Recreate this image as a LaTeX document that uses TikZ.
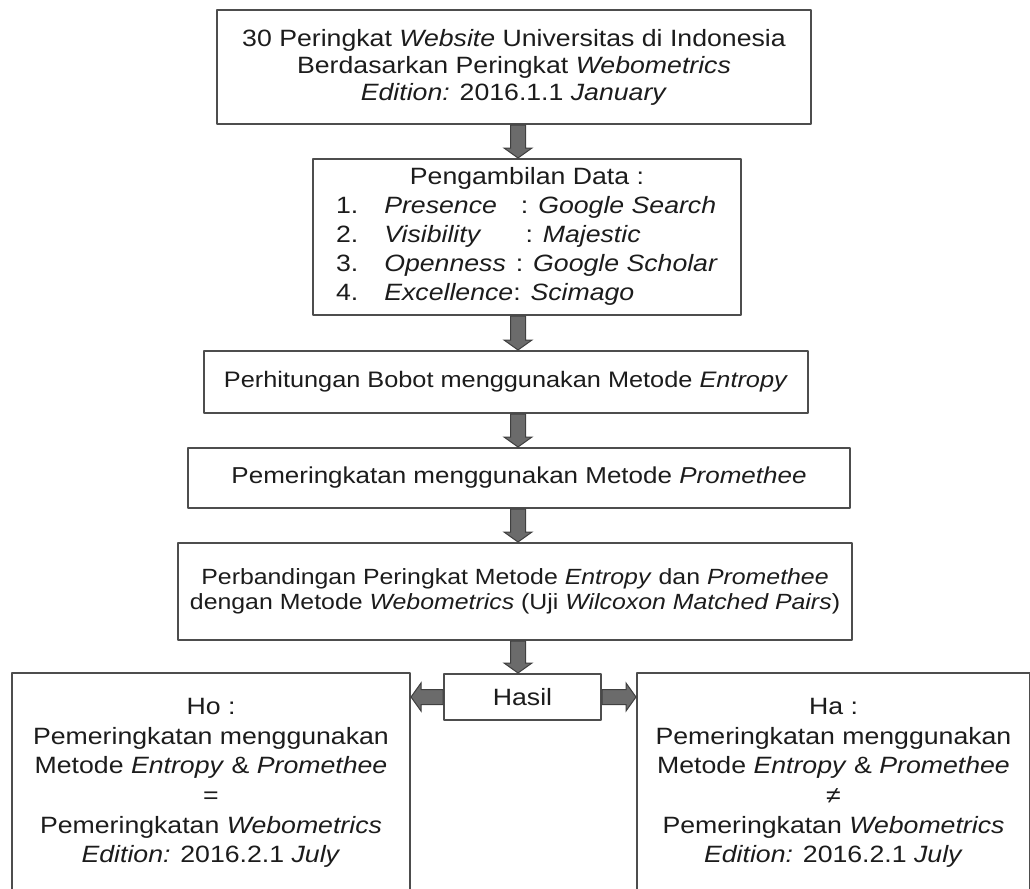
\documentclass[tikz,border=0pt]{standalone}
\usepackage{fontspec}
\setmainfont{Liberation Sans}[FakeStretch=1.13]
\usetikzlibrary{calc}
\definecolor{boxline}{HTML}{4D4D4D}
\definecolor{arrowfill}{HTML}{6B6B6B}
\definecolor{txt}{HTML}{1C1C1C}

\tikzset{
  stepbox/.style={draw=boxline, line width=1pt, fill=white, align=center, inner sep=0pt, text=txt},
  blockarrow/.style={fill=arrowfill, draw=black!75, line width=0.5pt, line join=miter},
  fs/.style 2 args={font=\fontsize{#1}{#2}\selectfont},
}

% block arrow pointing down, between two boxes
\newcommand{\downblock}[2]{%
  \draw[blockarrow] let \p1=(#1.south -| ax), \p2=(#2.north -| ax) in
    (\x1-3.75pt,\y1) -- (\x1+3.75pt,\y1) -- (\x1+3.75pt,\y2+5pt) -- (\x1+7pt,\y2+5pt)
    -- (\x1,\y2) -- (\x1-7pt,\y2+5pt) -- (\x1-3.75pt,\y2+5pt) -- cycle;}
% block arrow sideways, #3 = head length (its sign gives the direction)
\newcommand{\sideblock}[3]{%
  \draw[blockarrow] let \p1=(#1), \p2=(#2) in
    (\x1,{\y1-3.75pt}) -- ({\x2+(#3)},{\y1-3.75pt}) -- ({\x2+(#3)},{\y1-7pt}) -- (\x2,\y1)
    -- ({\x2+(#3)},{\y1+7pt}) -- ({\x2+(#3)},{\y1+3.75pt}) -- (\x1,{\y1+3.75pt}) -- cycle;}

\begin{document}
\begin{tikzpicture}[x=0.5pt, y=-0.5pt, line join=round]
  \path[fill=white, use as bounding box] (0,0) rectangle (1030,889);
  \clip (0,0) rectangle (1030,889);
  \coordinate (ax) at (518,0);

  % alur penelitian
  \node[stepbox, minimum width=297pt, minimum height=57pt, fs={11.8pt}{13.5pt}] (judul) at (514,67)
    {30 Peringkat \textit{Website} Universitas di Indonesia\\
     Berdasarkan Peringkat \textit{Webometrics}\\
     \textit{Edition:} 2016.1.1 \textit{January}};
  \node[stepbox, minimum width=214pt, minimum height=78pt, fs={11.8pt}{14.5pt}] (data) at (527,237)
    {\begin{tabular}{@{}l@{\hspace{13pt}}l@{}}
      \multicolumn{2}{c}{Pengambilan Data :}\\
      1. & \textit{Presence}\hspace{12pt}: \textit{Google Search}\\
      2. & \textit{Visibility}\hspace{22pt}: \textit{Majestic}\\
      3. & \textit{Openness}\hspace{5pt}: \textit{Google Scholar}\\
      4. & \textit{Excellence}: \textit{Scimago}
     \end{tabular}};
  \node[stepbox, minimum width=302pt, minimum height=31pt, fs={11.2pt}{12.5pt}] (entropy) at (506,382)
    {Perhitungan Bobot menggunakan Metode \textit{Entropy}};
  \node[stepbox, minimum width=331pt, minimum height=30pt, fs={11.5pt}{12.5pt}] (promethee) at (519,478)
    {Pemeringkatan menggunakan Metode \textit{Promethee}};
  \node[stepbox, minimum width=337pt, minimum height=48.5pt, fs={11pt}{12.5pt}] (banding) at (515,591.5)
    {Perbandingan Peringkat Metode \textit{Entropy} dan \textit{Promethee}\\
     dengan Metode \textit{Webometrics} (Uji \textit{Wilcoxon Matched Pairs})};
  \node[stepbox, minimum width=78.5pt, minimum height=23pt, fs={11.8pt}{13.5pt}] (hasil) at (522.5,697)
    {Hasil};
  \node[stepbox, minimum width=199pt, minimum height=110pt, fs={11.8pt}{14.8pt}] (hnol) at (211,783)
    {Ho :\\
     Pemeringkatan menggunakan\\
     Metode \textit{Entropy} \& \textit{Promethee}\\
     =\\
     Pemeringkatan \textit{Webometrics}\\
     \textit{Edition:} 2016.2.1 \textit{July}};
  \node[stepbox, minimum width=196.5pt, minimum height=110pt, fs={11.8pt}{14.8pt}] (halt) at (833.5,783)
    {Ha :\\
     Pemeringkatan menggunakan\\
     Metode \textit{Entropy} \& \textit{Promethee}\\
     ≠\\
     Pemeringkatan \textit{Webometrics}\\
     \textit{Edition:} 2016.2.1 \textit{July}};

  % panah
  \downblock{judul}{data}
  \downblock{data}{entropy}
  \downblock{entropy}{promethee}
  \downblock{promethee}{banding}
  \downblock{banding}{hasil}
  \sideblock{hasil.west}{hnol.east |- hasil.west}{5pt}
  \sideblock{hasil.east}{halt.west |- hasil.east}{-5pt}
\end{tikzpicture}
\end{document}
